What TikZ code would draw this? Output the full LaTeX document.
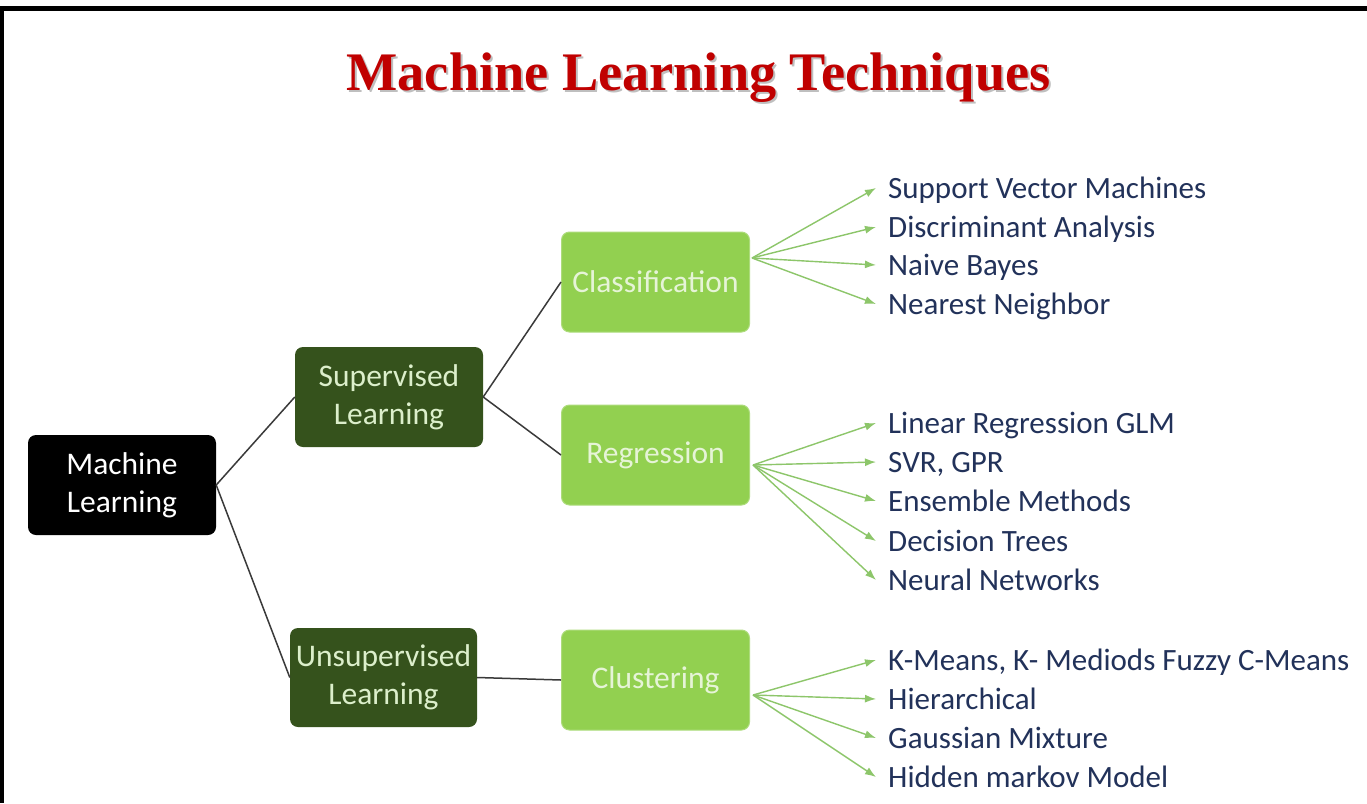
\documentclass[tikz,border=0pt]{standalone}
\usepackage{fontspec}
\setmainfont{Carlito}
\newfontfamily\titlefont{Liberation Serif}
\usetikzlibrary{arrows.meta}
\definecolor{titlered}{HTML}{C00000}
\definecolor{darkgreen}{HTML}{35521C}
\definecolor{palegreen}{HTML}{DCEFCB}
\definecolor{lightgreen}{HTML}{92D050}
\definecolor{paletext}{HTML}{E6F4D7}
\definecolor{navy}{HTML}{22325A}
\definecolor{linkgray}{HTML}{3A3A3A}
\definecolor{arrowgreen}{HTML}{8DC66A}
\begin{document}
\begin{tikzpicture}[x=1pt,y=-1pt,
  box/.style={rounded corners=8pt, minimum width=188pt, minimum height=100pt,
    align=center, inner sep=0pt, font=\fontsize{31.5}{38}\selectfont},
  root/.style={box, fill=black, text=white},
  midbox/.style={box, fill=darkgreen, text=palegreen},
  catbox/.style={box, fill=lightgreen, draw=lightgreen!75!white, line width=1pt, text=paletext},
  leaf/.style={anchor=west, inner xsep=12pt, inner ysep=0pt, text=navy,
    font=\fontsize{31}{38}\selectfont, text height=20pt, text depth=0pt},
  link/.style={draw=linkgray, line width=1.5pt},
  pointer/.style={draw=arrowgreen, line width=1.4pt, -{Latex[length=11pt,width=8pt]}},
  headline/.style={anchor=base, font=\titlefont\bfseries\fontsize{54.3}{58}\selectfont}
]
\useasboundingbox (0,0) rectangle (1367,803);
\fill[white] (0,0) rectangle (1367,803);

% frame on top and left
\draw[line width=5pt] (0,8.5) -- (1367,8.5);
\draw[line width=4pt] (2,6) -- (2,803);

% title with a soft drop shadow
\node[headline, text=black!25] (titleshadow) at (700.5,92.5) {Machine Learning Techniques};
\node[headline, text=titlered] (title) at (698.5,90) {Machine Learning Techniques};

% main boxes
\node[root] (ml) at (122,485) {Machine\\Learning};
\node[midbox] (sl) at (389,397) {Supervised\\Learning};
\node[midbox, minimum width=187pt, minimum height=99pt] (ul) at (383.5,677.5) {Unsupervised\\Learning};
\node[catbox] (cls) at (655.5,282) {Classification};
\node[catbox] (reg) at (655.5,455) {Regression};
\node[catbox] (clu) at (655.5,680) {Clustering};

% tree links
\draw[link] (ml.east) -- (sl.west);
\draw[link] (ml.east) -- (ul.west);
\draw[link] (sl.east) -- (cls.west);
\draw[link] (sl.east) -- (reg.west);
\draw[link] (ul.east) -- (clu.west);

% technique lists
\node[leaf] (c1) at (876,188) {Support Vector Machines};
\node[leaf] (c2) at (876,227) {Discriminant Analysis};
\node[leaf] (c3) at (876,265) {Naive Bayes};
\node[leaf] (c4) at (876,304) {Nearest Neighbor};

\node[leaf] (r1) at (876,423) {Linear Regression GLM};
\node[leaf] (r2) at (876,462) {SVR, GPR};
\node[leaf] (r3) at (876,501) {Ensemble Methods};
\node[leaf] (r4) at (876,541) {Decision Trees};
\node[leaf] (r5) at (876,580) {Neural Networks};

\node[leaf] (u1) at (876,660) {K-Means, K- Mediods Fuzzy C-Means};
\node[leaf] (u2) at (876,699) {Hierarchical};
\node[leaf] (u3) at (876,738) {Gaussian Mixture};
\node[leaf] (u4) at (876,777) {Hidden markov Model};

% fan-out origins
\coordinate (clsrc) at (752,258);
\coordinate (regsrc) at (753,465);
\coordinate (clusrc) at (753,695);

\foreach \t in {c1,c2,c3,c4} \draw[pointer] (clsrc) -- (\t.west);
\foreach \t in {r1,r2,r3,r4,r5} \draw[pointer] (regsrc) -- (\t.west);
\foreach \t in {u1,u2,u3,u4} \draw[pointer] (clusrc) -- (\t.west);
\end{tikzpicture}
\end{document}
